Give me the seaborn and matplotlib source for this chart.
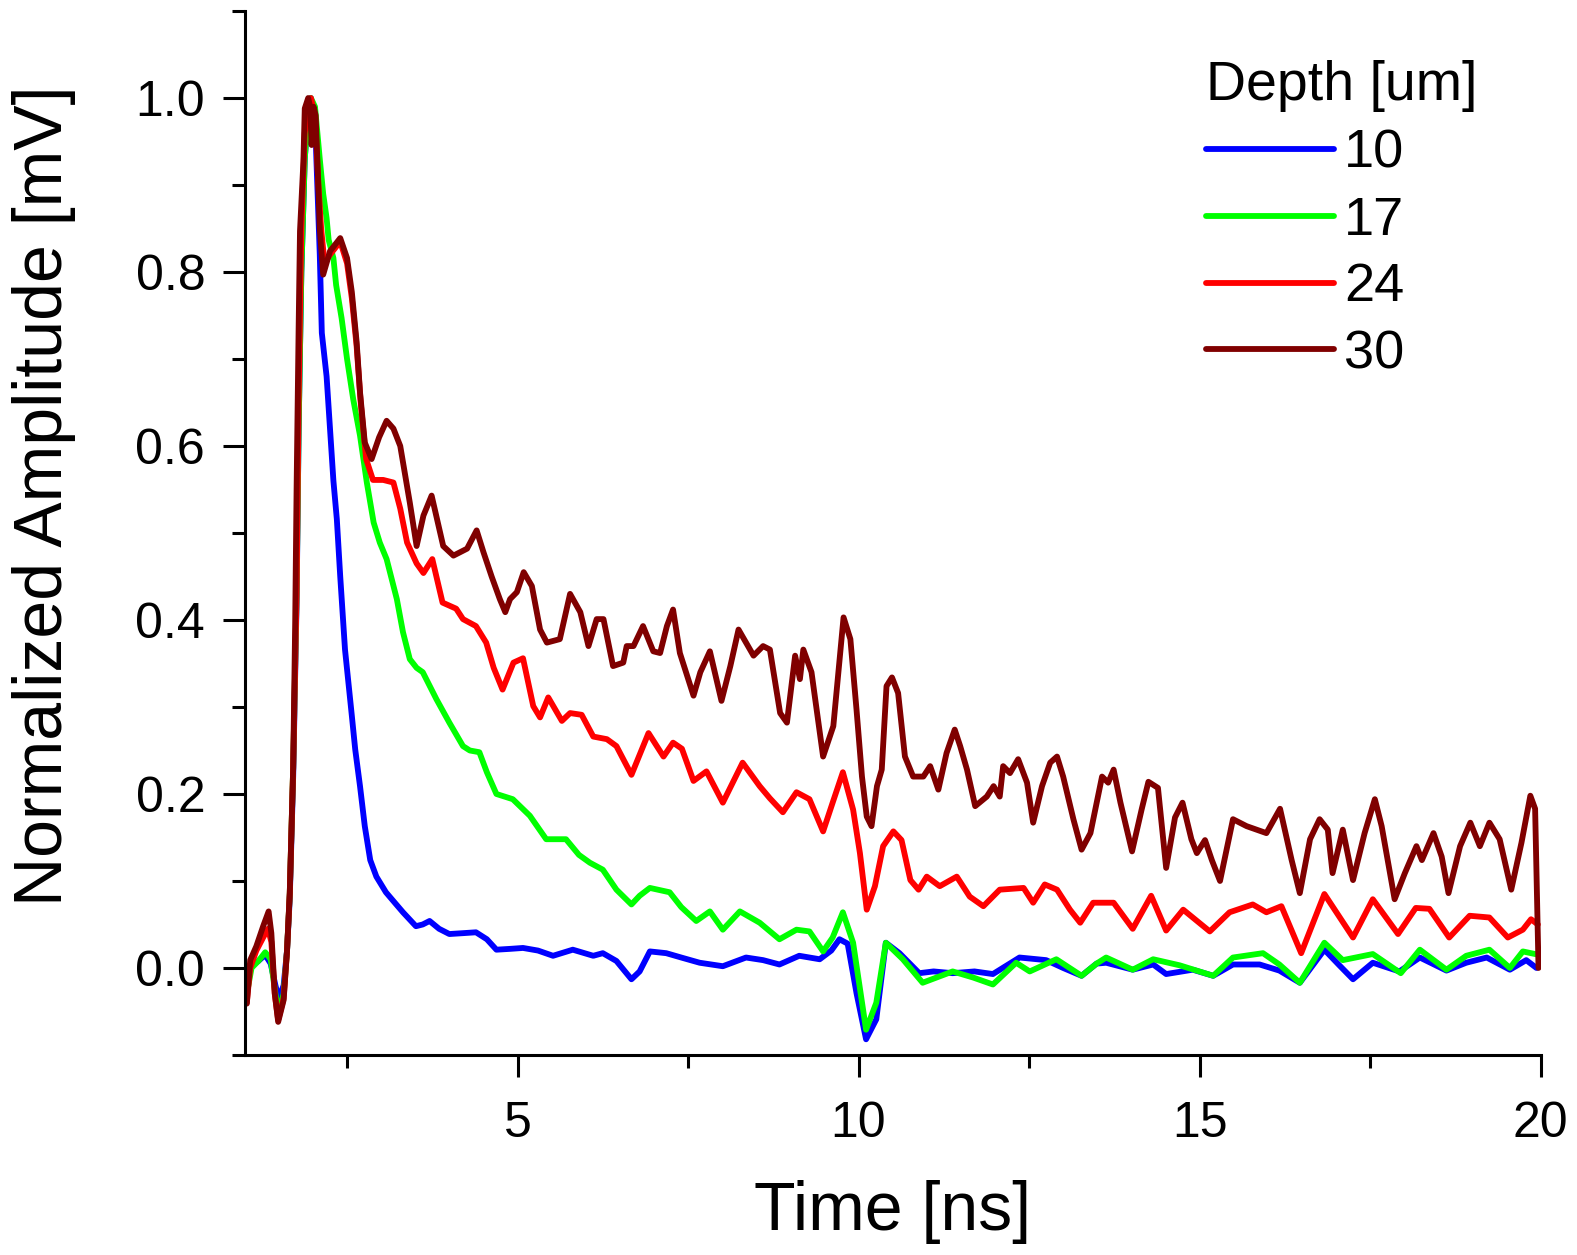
import matplotlib
matplotlib.use("Agg")
import matplotlib.pyplot as plt
import pandas as pd
import seaborn as sns
from matplotlib.ticker import FormatStrFormatter

# Normalized transient signals for four depths (time in ns, amplitude normalized)
depth_labels = ["10", "17", "24", "30"]
line_colors = ["#0000FF", "#00FF00", "#FF0000", "#800000"]

t_10 = [1.03, 1.10, 1.20, 1.30, 1.38, 1.45, 1.50, 1.57, 1.62, 1.66,
        1.71, 1.76, 1.79, 1.83, 1.88, 1.93, 1.97, 2.03, 2.10, 2.13,
        2.20, 2.25, 2.30, 2.35, 2.40, 2.47, 2.52, 2.57, 2.62, 2.69,
        2.76, 2.84, 2.93, 3.07, 3.20, 3.32, 3.51, 3.61, 3.71, 3.85,
        4.00, 4.20, 4.39, 4.55, 4.69, 4.90, 5.08, 5.30, 5.52, 5.81,
        6.11, 6.25, 6.45, 6.67, 6.79, 6.94, 7.18, 7.40, 7.67, 8.01,
        8.35, 8.60, 8.84, 9.13, 9.43, 9.60, 9.72, 9.84, 9.97, 10.11,
        10.26, 10.40, 10.60, 10.89, 11.10, 11.38, 11.70, 11.97, 12.36, 12.75,
        13.00, 13.27, 13.49, 13.63, 14.02, 14.32, 14.51, 14.90, 15.20, 15.49,
        15.88, 16.17, 16.47, 16.83, 17.05, 17.25, 17.54, 17.93, 18.23, 18.62,
        18.91, 19.21, 19.55, 19.79, 19.94, 20.00]
v_10 = [0.000, 0.003, 0.008, 0.015, 0.005, -0.020, -0.035, -0.020, 0.020, 0.080,
        0.220, 0.420, 0.620, 0.800, 0.930, 0.985, 1.000, 0.975, 0.820, 0.730,
        0.680, 0.620, 0.560, 0.516, 0.450, 0.366, 0.328, 0.290, 0.251, 0.209,
        0.163, 0.124, 0.105, 0.087, 0.075, 0.064, 0.048, 0.050, 0.054, 0.045,
        0.039, 0.040, 0.041, 0.033, 0.021, 0.022, 0.023, 0.020, 0.014, 0.021,
        0.014, 0.017, 0.008, -0.013, -0.004, 0.019, 0.017, 0.012, 0.006, 0.002,
        0.012, 0.009, 0.004, 0.014, 0.010, 0.020, 0.033, 0.028, -0.029, -0.082,
        -0.059, 0.029, 0.017, -0.006, -0.004, -0.006, -0.004, -0.007, 0.012, 0.009,
        0.000, -0.009, 0.005, 0.006, -0.002, 0.004, -0.007, -0.002, -0.009, 0.004,
        0.004, -0.003, -0.017, 0.021, 0.003, -0.013, 0.006, -0.004, 0.012, -0.003,
        0.006, 0.012, -0.002, 0.009, 0.000, 0.005]

t_17 = [1.03, 1.10, 1.20, 1.30, 1.38, 1.45, 1.50, 1.57, 1.62, 1.66,
        1.71, 1.76, 1.79, 1.83, 1.88, 1.93, 1.97, 2.03, 2.10, 2.15,
        2.20, 2.23, 2.30, 2.34, 2.42, 2.50, 2.59, 2.69, 2.79, 2.89,
        2.98, 3.08, 3.23, 3.32, 3.42, 3.52, 3.61, 3.81, 4.00, 4.20,
        4.30, 4.44, 4.55, 4.69, 4.93, 5.18, 5.42, 5.55, 5.71, 5.90,
        6.06, 6.25, 6.45, 6.67, 6.79, 6.94, 7.23, 7.40, 7.62, 7.82,
        8.01, 8.26, 8.55, 8.84, 9.09, 9.28, 9.48, 9.62, 9.77, 9.92,
        10.11, 10.26, 10.40, 10.65, 10.94, 11.38, 11.68, 11.97, 12.31, 12.51,
        12.90, 13.27, 13.49, 13.63, 14.02, 14.32, 14.71, 15.20, 15.49, 15.93,
        16.17, 16.47, 16.83, 17.10, 17.54, 17.95, 18.23, 18.62, 18.91, 19.25,
        19.55, 19.74, 19.92, 20.00]
v_17 = [-0.030, 0.000, 0.008, 0.018, 0.010, -0.030, -0.050, -0.030, 0.020, 0.085,
        0.230, 0.430, 0.620, 0.800, 0.930, 0.985, 1.000, 0.990, 0.930, 0.890,
        0.862, 0.837, 0.816, 0.785, 0.747, 0.700, 0.654, 0.612, 0.558, 0.512,
        0.489, 0.470, 0.424, 0.386, 0.355, 0.345, 0.340, 0.309, 0.282, 0.255,
        0.250, 0.248, 0.225, 0.200, 0.194, 0.175, 0.148, 0.148, 0.148, 0.130,
        0.121, 0.113, 0.090, 0.073, 0.083, 0.092, 0.087, 0.070, 0.054, 0.065,
        0.044, 0.065, 0.052, 0.033, 0.044, 0.042, 0.019, 0.035, 0.064, 0.029,
        -0.071, -0.040, 0.029, 0.010, -0.017, -0.004, -0.011, -0.019, 0.006, -0.004,
        0.010, -0.009, 0.005, 0.012, -0.002, 0.010, 0.003, -0.009, 0.012, 0.017,
        0.004, -0.017, 0.029, 0.009, 0.016, -0.006, 0.021, -0.002, 0.014, 0.021,
        0.000, 0.019, 0.016, 0.015]

t_24 = [1.03, 1.08, 1.17, 1.27, 1.34, 1.39, 1.44, 1.49, 1.57, 1.62,
        1.66, 1.71, 1.76, 1.79, 1.83, 1.88, 1.93, 1.97, 2.03, 2.08,
        2.12, 2.17, 2.25, 2.40, 2.50, 2.57, 2.64, 2.70, 2.78, 2.88,
        3.03, 3.18, 3.28, 3.38, 3.52, 3.62, 3.75, 3.90, 4.10, 4.20,
        4.39, 4.54, 4.65, 4.78, 4.94, 5.08, 5.23, 5.33, 5.45, 5.65,
        5.77, 5.94, 6.11, 6.31, 6.45, 6.67, 6.92, 7.14, 7.28, 7.41,
        7.58, 7.77, 8.01, 8.30, 8.55, 8.70, 8.89, 9.09, 9.28, 9.48,
        9.62, 9.77, 9.92, 10.02, 10.12, 10.24, 10.36, 10.51, 10.63, 10.76,
        10.88, 11.00, 11.19, 11.44, 11.63, 11.83, 12.07, 12.42, 12.56, 12.73,
        12.91, 13.10, 13.25, 13.44, 13.74, 14.02, 14.29, 14.51, 14.76, 15.15,
        15.44, 15.78, 15.98, 16.20, 16.49, 16.83, 17.25, 17.54, 17.91, 18.17,
        18.37, 18.66, 18.96, 19.25, 19.52, 19.74, 19.86, 19.96]
v_24 = [-0.040, 0.000, 0.020, 0.035, 0.045, 0.030, -0.030, -0.060, -0.035, 0.020,
        0.086, 0.230, 0.430, 0.650, 0.850, 0.960, 0.990, 1.000, 0.980, 0.900,
        0.850, 0.810, 0.820, 0.835, 0.810, 0.770, 0.715, 0.650, 0.585, 0.561,
        0.561, 0.558, 0.528, 0.489, 0.465, 0.454, 0.470, 0.420, 0.413, 0.401,
        0.393, 0.374, 0.345, 0.320, 0.351, 0.356, 0.301, 0.288, 0.311, 0.284,
        0.293, 0.291, 0.266, 0.263, 0.255, 0.222, 0.270, 0.243, 0.259, 0.252,
        0.215, 0.226, 0.190, 0.236, 0.209, 0.195, 0.179, 0.202, 0.194, 0.157,
        0.190, 0.225, 0.182, 0.132, 0.067, 0.094, 0.140, 0.157, 0.147, 0.101,
        0.090, 0.105, 0.094, 0.105, 0.082, 0.071, 0.090, 0.092, 0.075, 0.096,
        0.090, 0.067, 0.052, 0.075, 0.075, 0.045, 0.083, 0.043, 0.067, 0.042,
        0.064, 0.073, 0.064, 0.071, 0.017, 0.085, 0.035, 0.079, 0.039, 0.069,
        0.068, 0.035, 0.060, 0.058, 0.035, 0.044, 0.056, 0.050]

t_30 = [1.03, 1.08, 1.17, 1.27, 1.35, 1.39, 1.44, 1.49, 1.57, 1.62,
        1.66, 1.71, 1.74, 1.76, 1.79, 1.81, 1.86, 1.88, 1.93, 1.96,
        1.98, 2.01, 2.04, 2.08, 2.10, 2.15, 2.25, 2.40, 2.50, 2.57,
        2.64, 2.69, 2.76, 2.86, 2.97, 3.08, 3.18, 3.28, 3.42, 3.52,
        3.62, 3.74, 3.91, 4.06, 4.26, 4.40, 4.50, 4.62, 4.74, 4.82,
        4.89, 4.99, 5.09, 5.21, 5.33, 5.43, 5.62, 5.77, 5.92, 6.04,
        6.16, 6.26, 6.40, 6.55, 6.60, 6.70, 6.84, 6.99, 7.09, 7.19,
        7.28, 7.38, 7.58, 7.68, 7.82, 7.99, 8.12, 8.24, 8.46, 8.60,
        8.70, 8.85, 8.95, 9.07, 9.14, 9.19, 9.31, 9.48, 9.63, 9.78,
        9.88, 9.97, 10.05, 10.12, 10.19, 10.27, 10.34, 10.41, 10.49, 10.58,
        10.68, 10.80, 10.95, 11.05, 11.17, 11.29, 11.41, 11.49, 11.59, 11.71,
        11.88, 11.98, 12.07, 12.12, 12.22, 12.34, 12.47, 12.56, 12.69, 12.81,
        12.91, 13.00, 13.15, 13.27, 13.40, 13.57, 13.66, 13.74, 13.84, 14.01,
        14.15, 14.25, 14.39, 14.51, 14.64, 14.75, 14.88, 14.96, 15.08, 15.18,
        15.30, 15.49, 15.69, 15.98, 16.18, 16.35, 16.47, 16.62, 16.76, 16.88,
        16.95, 17.10, 17.25, 17.42, 17.57, 17.67, 17.86, 18.01, 18.18, 18.26,
        18.43, 18.55, 18.65, 18.82, 18.97, 19.11, 19.25, 19.40, 19.57, 19.72,
        19.85, 19.92, 19.97]
v_30 = [-0.041, 0.009, 0.025, 0.048, 0.065, 0.040, -0.029, -0.062, -0.037, 0.020,
        0.086, 0.230, 0.400, 0.550, 0.735, 0.847, 0.927, 0.988, 1.000, 0.990,
        0.946, 0.990, 0.980, 0.896, 0.850, 0.797, 0.824, 0.839, 0.816, 0.777,
        0.720, 0.662, 0.604, 0.585, 0.610, 0.629, 0.620, 0.600, 0.535, 0.485,
        0.520, 0.543, 0.485, 0.474, 0.482, 0.503, 0.478, 0.450, 0.424, 0.409,
        0.424, 0.432, 0.455, 0.439, 0.389, 0.374, 0.378, 0.430, 0.409, 0.370,
        0.401, 0.401, 0.347, 0.351, 0.370, 0.370, 0.393, 0.364, 0.362, 0.393,
        0.412, 0.362, 0.313, 0.340, 0.364, 0.307, 0.347, 0.389, 0.359, 0.370,
        0.366, 0.293, 0.282, 0.359, 0.332, 0.366, 0.340, 0.243, 0.278, 0.403,
        0.378, 0.297, 0.220, 0.174, 0.163, 0.209, 0.228, 0.324, 0.334, 0.316,
        0.243, 0.220, 0.220, 0.232, 0.205, 0.247, 0.274, 0.255, 0.228, 0.186,
        0.197, 0.209, 0.197, 0.232, 0.224, 0.240, 0.213, 0.167, 0.209, 0.236,
        0.243, 0.220, 0.171, 0.136, 0.155, 0.220, 0.213, 0.228, 0.190, 0.134,
        0.182, 0.214, 0.207, 0.115, 0.173, 0.190, 0.148, 0.132, 0.147, 0.124,
        0.100, 0.171, 0.163, 0.155, 0.183, 0.124, 0.086, 0.148, 0.171, 0.159,
        0.109, 0.159, 0.101, 0.155, 0.194, 0.163, 0.079, 0.109, 0.140, 0.124,
        0.155, 0.128, 0.086, 0.140, 0.167, 0.140, 0.167, 0.148, 0.090, 0.144,
        0.198, 0.183, 0.000]

x_major = [5, 10, 15, 20]
x_minor = [2.5, 7.5, 12.5, 17.5]
y_major = [0.0, 0.2, 0.4, 0.6, 0.8, 1.0]
y_minor = [-0.1, 0.1, 0.3, 0.5, 0.7, 0.9, 1.1]

# ---- long-form table for seaborn ----
series = [(t_10, v_10), (t_17, v_17), (t_24, v_24), (t_30, v_30)]
frames = [pd.DataFrame({"Time": t, "Amplitude": v, "Depth": lab})
          for lab, (t, v) in zip(depth_labels, series)]
df = pd.concat(frames, ignore_index=True)

sns.set_theme(style="ticks")
plt.rcParams.update({
    "font.family": ["Liberation Sans", "DejaVu Sans"],
    "text.color": "black",
    "axes.labelcolor": "black",
    "axes.edgecolor": "black",
    "xtick.color": "black",
    "ytick.color": "black",
    "axes.linewidth": 2.2,
})

fig = plt.figure(figsize=(15.77, 12.55), dpi=100)
ax = fig.add_axes([0.1552, 0.1594, 0.8217, 0.8318])

sns.lineplot(data=df, x="Time", y="Amplitude", hue="Depth",
             hue_order=depth_labels,
             palette=dict(zip(depth_labels, line_colors)),
             estimator=None, sort=False, linewidth=4.2,
             legend=False, ax=ax)

ax.set_xlim(1.0, 20.0)
ax.set_ylim(-0.1, 1.1)
ax.set_xticks(x_major)
ax.set_xticks(x_minor, minor=True)
ax.set_yticks(y_major)
ax.set_yticks(y_minor, minor=True)
ax.xaxis.set_major_formatter(FormatStrFormatter("%g"))
ax.yaxis.set_major_formatter(FormatStrFormatter("%.1f"))

ax.tick_params(which="major", direction="out", length=16, width=2.2,
               labelsize=36)
ax.tick_params(which="minor", direction="out", length=9.5, width=2.2)
ax.tick_params(axis="x", which="major", pad=17.5)
ax.tick_params(axis="y", which="major", pad=12.5)
sns.despine(ax=ax)

ax.set_xlabel("Time [ns]", fontsize=49)
ax.set_ylabel("Normalized Amplitude [mV]", fontsize=49)
ax.xaxis.set_label_coords(0.5, -0.1197)
ax.yaxis.set_label_coords(-0.130, 0.536)

handles = ax.lines[:len(depth_labels)]
ax.legend(handles, depth_labels, title="Depth [um]", loc="upper left",
          bbox_to_anchor=(0.742, 0.953), frameon=False, fontsize=39,
          title_fontsize=40, handlelength=2.35, handletextpad=0.2,
          labelspacing=0.31, borderpad=0, borderaxespad=0, alignment="left")

fig.savefig("out.png", dpi=100)
